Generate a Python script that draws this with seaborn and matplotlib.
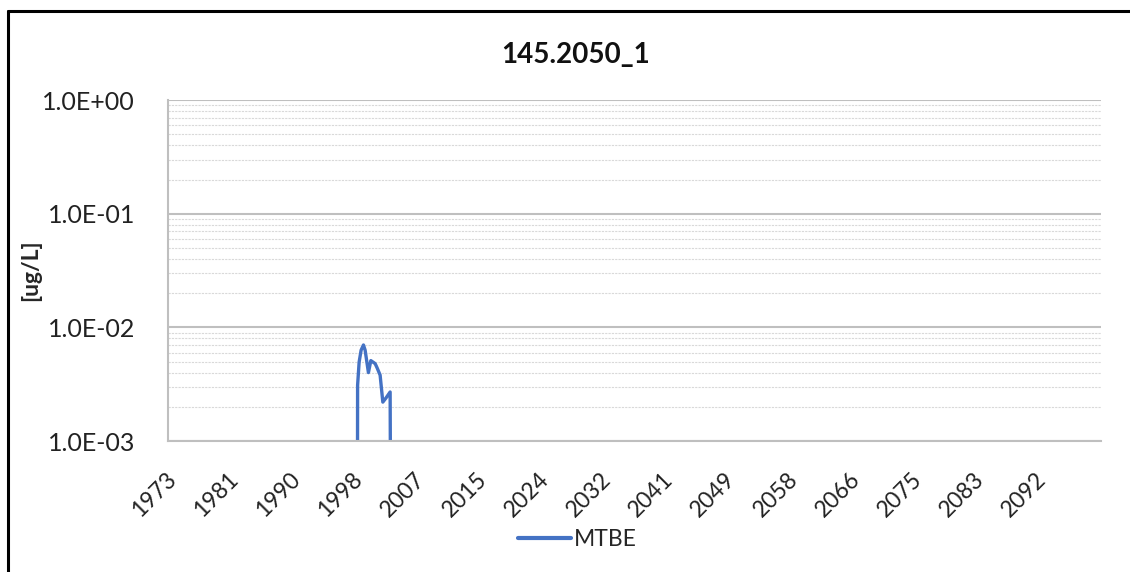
import matplotlib
matplotlib.use("Agg")
import matplotlib.pyplot as plt
import matplotlib.ticker as mticker
import matplotlib.transforms as mtransforms
from matplotlib.lines import Line2D
import numpy as np
import pandas as pd
import seaborn as sns

# MTBE concentration (decimal year, ug/L)
years = [1998.81, 1998.88, 1999.09, 1999.36, 1999.68, 1999.91, 2000.36, 2000.69,
         2001.28, 2001.55, 2001.96, 2002.33, 2002.78, 2003.33, 2003.53]
mtbe = [1e-6, 0.0031, 0.00495, 0.0063, 0.0070, 0.0063, 0.0040, 0.0051,
        0.0048, 0.0044, 0.0038, 0.0022, 0.0024, 0.0027, 1e-6]

title = "145.2050_1"
ylabel = "[ug/L]"
series_name = "MTBE"

df = pd.DataFrame({"year": years, "value": mtbe})

sns.set_style("white")
plt.rcParams["font.family"] = ["Lato", "DejaVu Sans"]

fig = plt.figure(figsize=(11.3, 5.72), dpi=100)
ax = fig.add_axes([0.149, 0.229, 0.825, 0.596])

sns.lineplot(data=df, x="year", y="value", ax=ax, color="#4472C4",
             linewidth=2.4, legend=False)

ax.set_yscale("log")
ax.set_ylim(1e-3, 1)
ax.set_xlim(1973, 2100.5)

# x ticks every 8.5 years, labelled with the year part
xt = 1973 + 8.5 * np.arange(15)
ax.set_xticks(xt)
ax.set_xticklabels([str(int(v)) for v in xt], rotation=45, ha="right",
                   rotation_mode="anchor", fontsize=16.5, color="#222222")
ax.tick_params(axis="x", length=0, pad=20)
shift = mtransforms.ScaledTranslation(-3 / 100, 0, fig.dpi_scale_trans)
for lbl in ax.get_xticklabels():
    lbl.set_transform(lbl.get_transform() + shift)

ax.yaxis.set_major_locator(mticker.LogLocator(base=10, numticks=10))
ax.yaxis.set_major_formatter(mticker.FuncFormatter(lambda v, p: "{:.1E}".format(v)))
ax.yaxis.set_minor_locator(mticker.LogLocator(base=10, subs=np.arange(2, 10), numticks=10))
ax.yaxis.set_minor_formatter(mticker.NullFormatter())
ax.tick_params(axis="y", which="major", length=6, width=1.2, color="#bfbfbf",
               labelcolor="#222222", pad=18, labelsize=18)
ax.tick_params(axis="y", which="minor", length=0)

ax.grid(True, which="major", axis="y", color="#bfbfbf", linewidth=1.5)
ax.grid(True, which="minor", axis="y", color="#d9d9d9", linewidth=0.8, linestyle=(0, (2, 1)))
ax.set_axisbelow(True)

for s in ["top", "right"]:
    ax.spines[s].set_visible(False)
for s in ["left", "bottom"]:
    ax.spines[s].set_color("#bfbfbf")
    ax.spines[s].set_linewidth(1.5)

ax.set_xlabel("")
ax.set_ylabel(ylabel, fontsize=16.5, fontweight="bold")
ax.yaxis.set_label_coords(-0.136, 0.5)

fig.text(0.509, 0.904, title, ha="center", va="center", fontsize=20,
         fontweight="bold", color="#111111")

handle = Line2D([], [], color="#4472C4", linewidth=3)
fig.legend([handle], [series_name], loc="center", bbox_to_anchor=(0.511, 0.056),
           frameon=False, fontsize=16.5, handlelength=2.3, handletextpad=0.15)

# chart-area border (top and left edges visible in the crop)
fig.add_artist(Line2D([0.0075, 1.0], [0.980, 0.980], transform=fig.transFigure,
                      color="black", linewidth=2.2))
fig.add_artist(Line2D([0.0075, 0.0075], [0.0, 0.980], transform=fig.transFigure,
                      color="black", linewidth=2.2))

fig.savefig("out.png", dpi=100)
